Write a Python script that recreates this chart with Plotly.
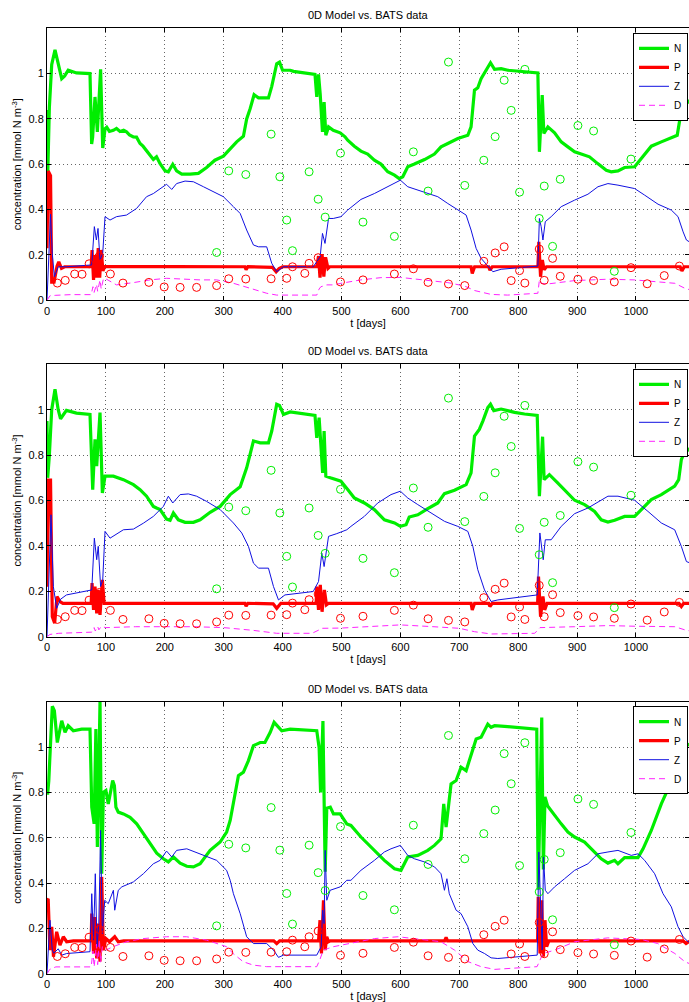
import plotly.graph_objects as go

# ---------------- observations (BATS data, same in all panels) ----------------
obsN_t = [288, 308.6, 337.5, 380.5, 395.3, 407, 416.8, 445, 460.4, 472.3, 498.3, 536.5, 589.8, 622, 647,
          681.6, 709.3, 741.6, 760.9, 776.2, 788.1, 802.3, 811.3, 835.7, 844.2, 858.4, 871.4, 901.4, 928,
          963.2, 991.5]
obsN_v = [0.211, 0.571, 0.555, 0.733, 0.545, 0.354, 0.219, 0.567, 0.446, 0.367, 0.649, 0.345, 0.282, 0.655,
          0.482, 1.051, 0.507, 0.618, 0.722, 0.971, 0.838, 0.477, 1.019, 0.361, 0.504, 0.238, 0.534, 0.771,
          0.747, 0.128, 0.623]
obsP_t = [17.6, 31, 47, 59.5, 71.5, 89, 107.6, 129, 173, 199, 226, 254, 288, 308.6, 337.5, 380.5, 407, 416.8,
          437.7, 445, 460.4, 498.3, 536.5, 589.8, 622, 647, 681.6, 709.3, 741.6, 760.9, 776.2, 788.1, 802.3,
          811.3, 835.7, 844.2, 858.4, 871.4, 901.4, 928, 963.2, 991.5, 1019, 1048, 1073.7]
obsP_v = [0.076, 0.088, 0.116, 0.115, 0.161, 0.195, 0.116, 0.076, 0.079, 0.059, 0.057, 0.057, 0.065, 0.095,
          0.094, 0.095, 0.097, 0.148, 0.119, 0.163, 0.188, 0.081, 0.090, 0.116, 0.139, 0.079, 0.072, 0.065,
          0.172, 0.209, 0.236, 0.087, 0.131, 0.076, 0.226, 0.088, 0.185, 0.106, 0.093, 0.087, 0.081, 0.144,
          0.073, 0.109, 0.151]

# ---------------- panel 1 model curves (t, value) ----------------
p1_N = [(0, 0.84), (1.2, 0.55), (4, 0.85), (8, 1.04), (13.6, 1.105), (19, 1.05), (25, 0.978), (30, 0.99),
        (36, 1.015), (50, 1.003), (73, 1.0), (75.8, 0.69), (77.5, 0.72), (81.5, 0.897), (85.5, 0.743),
        (91, 1.019), (94.6, 0.672), (98.5, 0.757), (101.4, 0.764), (106, 0.745), (112.7, 0.75), (118, 0.758),
        (124, 0.745), (130, 0.75), (135, 0.743), (140, 0.73), (146.7, 0.721), (152, 0.72), (158, 0.692),
        (163, 0.68), (169, 0.662), (175, 0.64), (180.6, 0.621), (186, 0.633), (192, 0.603), (200.5, 0.571),
        (206, 0.567), (213.5, 0.60), (220, 0.571), (228.8, 0.557), (243, 0.557), (257, 0.56), (271, 0.586),
        (285, 0.618), (299.5, 0.636), (311, 0.67), (322, 0.699), (333.5, 0.724), (339, 0.80), (345, 0.846),
        (351.6, 0.907), (359, 0.893), (376, 0.893), (381.6, 0.944), (390, 1.044), (394.7, 1.051), (400, 1.015),
        (412.8, 1.015), (418.5, 1.01), (455, 0.997), (458, 0.897), (461, 0.997), (463.8, 0.912), (467.7, 0.743),
        (470.5, 0.875), (473.4, 0.728), (478, 0.765), (486, 0.75), (497.7, 0.739), (506, 0.721), (510.5, 0.706),
        (521.8, 0.68), (533, 0.658), (544.5, 0.645), (555.8, 0.618), (567, 0.601), (578.5, 0.567), (590, 0.552),
        (598, 0.537), (604, 0.545), (612.5, 0.589), (623.8, 0.601), (641, 0.621), (657.8, 0.645), (669, 0.677),
        (680.5, 0.692), (697.5, 0.714), (714.5, 0.728), (720, 0.765), (725.8, 0.927), (731.4, 0.938),
        (737, 0.978), (745.6, 1.015), (753, 1.048), (759.8, 1.019), (771, 1.022), (782.4, 1.015), (810.8, 1.01),
        (833.4, 1.003), (836, 0.655), (839, 0.78), (840.8, 0.905), (843.6, 0.736), (850.4, 0.765),
        (861.8, 0.739), (873, 0.699), (884.4, 0.677), (895.8, 0.655), (907, 0.645), (921, 0.633), (935, 0.603),
        (949.6, 0.574), (958, 0.567), (969.4, 0.571), (980.7, 0.586), (997.7, 0.589), (1009, 0.626),
        (1026, 0.68), (1043, 0.699), (1057, 0.714), (1070, 0.728), (1077, 0.838), (1085.6, 0.885),
        (1092.5, 0.868)]
p1_P = [(0, 0.23), (2, 0.57), (6, 0.55), (8, 0.08), (12, 0.08), (17, 0.15), (20, 0.17), (24.6, 0.141),
        (30, 0.148), (75, 0.148), (76.5, 0.222), (79, 0.09), (81.5, 0.2), (84, 0.1), (87, 0.23), (89.5, 0.1),
        (92, 0.222), (95, 0.13), (98, 0.15), (200, 0.15), (336, 0.148), (338, 0.135), (341, 0.148),
        (383, 0.145), (389, 0.126), (394, 0.14), (400, 0.148), (458, 0.148), (461, 0.195), (463.5, 0.1),
        (467, 0.204), (470, 0.105), (473, 0.19), (477, 0.141), (480, 0.148), (720, 0.148), (722, 0.118),
        (726, 0.148), (750, 0.148), (752, 0.133), (756, 0.148), (833.5, 0.148), (835, 0.258), (838, 0.104),
        (841, 0.178), (844, 0.135), (848, 0.148), (1075, 0.148), (1078, 0.13), (1082, 0.148), (1095, 0.148)]
p1_Z = [(0, 0), (6, 0.38), (9, 0.207), (12.5, 0.104), (19, 0.148), (33.4, 0.148), (76, 0.156), (80.4, 0.325),
        (83.8, 0.266), (86.6, 0.317), (90, 0.178), (94.6, 0.207), (98.5, 0.369), (107, 0.354), (118, 0.369),
        (135, 0.376), (152, 0.405), (169, 0.457), (180.6, 0.471), (192, 0.493), (203, 0.512), (211.8, 0.489),
        (220, 0.515), (234.4, 0.526), (248.6, 0.523), (265.6, 0.501), (282.6, 0.479), (299.5, 0.457),
        (316.5, 0.413), (328, 0.383), (339, 0.31), (350.5, 0.244), (359, 0.236), (373, 0.236), (381.6, 0.163),
        (390, 0.126), (401.5, 0.148), (452, 0.148), (463.8, 0.192), (467.7, 0.295), (472, 0.251), (478, 0.361),
        (486, 0.361), (499, 0.369), (510.5, 0.398), (533, 0.445), (555.8, 0.471), (578.5, 0.501), (600, 0.53),
        (612.5, 0.501), (635, 0.483), (663.5, 0.457), (680.5, 0.427), (697.5, 0.398), (711.6, 0.376),
        (720, 0.31), (728.6, 0.229), (737, 0.185), (751, 0.141), (757, 0.126), (771, 0.137), (833.4, 0.151),
        (836, 0.361), (839, 0.325), (842, 0.266), (846, 0.347), (856, 0.369), (873, 0.413), (895.8, 0.442),
        (918.4, 0.468), (935.4, 0.501), (952.4, 0.515), (969.4, 0.508), (997.7, 0.493), (1014.7, 0.464),
        (1037.4, 0.424), (1060, 0.398), (1071.4, 0.369), (1080, 0.302), (1085.6, 0.266), (1092.5, 0.255)]
p1_D = [(0, 0), (5, 0.02), (15, 0.022), (40, 0.025), (75, 0.025), (78, 0.06), (80, 0.035), (84, 0.07),
        (86, 0.04), (90, 0.09), (92, 0.05), (96, 0.097), (101, 0.093), (118, 0.068), (146.7, 0.078),
        (175, 0.09), (203, 0.097), (231.6, 0.093), (260, 0.09), (288, 0.09), (316.5, 0.075), (345, 0.053),
        (373, 0.031), (390, 0.023), (458, 0.023), (462, 0.05), (465, 0.06), (469.4, 0.063), (475, 0.068),
        (486.4, 0.068), (499, 0.075), (533, 0.09), (567, 0.10), (600, 0.101), (641, 0.09), (680.5, 0.078),
        (709, 0.063), (726, 0.043), (754, 0.026), (782, 0.023), (833.4, 0.031), (836, 0.09), (839, 0.075),
        (850, 0.072), (896, 0.087), (952, 0.093), (997.7, 0.09), (1037, 0.082), (1066, 0.075), (1083, 0.053),
        (1092, 0.046)]

# ---------------- panel 2 model curves ----------------
p2_N = [(0, 0.95), (1.2, 0.7), (4, 0.8), (8, 1.0), (13.6, 1.09), (19, 1.0), (23, 0.96), (33, 0.997),
        (50, 0.985), (73, 0.979), (77.6, 0.648), (81.5, 0.869), (84.4, 0.751), (90, 0.987), (94, 0.633),
        (98.5, 0.707), (112.7, 0.707), (129.7, 0.692), (146.7, 0.67), (158, 0.648), (169, 0.619),
        (180.6, 0.574), (186, 0.567), (192, 0.56), (203, 0.518), (209, 0.513), (214.6, 0.545), (223, 0.515),
        (234.4, 0.504), (248.6, 0.504), (260, 0.515), (277, 0.548), (294, 0.574), (311, 0.626), (328, 0.66),
        (339, 0.744), (350.5, 0.862), (362, 0.854), (376, 0.854), (381.6, 0.906), (390, 1.024), (394.7, 1.019),
        (401.5, 0.979), (412.8, 0.99), (455, 0.975), (458, 0.876), (462, 0.965), (465, 0.825), (468, 0.722),
        (470.5, 0.906), (473.4, 0.707), (481, 0.70), (492, 0.692), (499, 0.685), (510.5, 0.648), (521.8, 0.611),
        (538.8, 0.589), (555.8, 0.56), (572.8, 0.515), (590, 0.501), (600, 0.486), (609.6, 0.493), (615, 0.527),
        (629.5, 0.537), (646.5, 0.564), (663.5, 0.589), (674.8, 0.63), (691.8, 0.645), (711.6, 0.67),
        (720, 0.722), (725.8, 0.884), (734, 0.913), (740, 0.95), (748.4, 1.009), (753, 1.024), (758.6, 0.996),
        (771, 1.003), (793.8, 0.988), (810.8, 0.981), (832.3, 0.975), (836, 0.619), (839, 0.766),
        (841.4, 0.881), (844, 0.692), (853, 0.714), (867.4, 0.677), (884.4, 0.633), (895.8, 0.601),
        (912.7, 0.582), (929.7, 0.552), (941, 0.515), (952.4, 0.505), (963.7, 0.513), (980.7, 0.53),
        (997.7, 0.53), (1012, 0.567), (1026, 0.604), (1043, 0.626), (1065.7, 0.663), (1072.5, 0.692),
        (1077, 0.78), (1085.6, 0.832), (1092.5, 0.817)]
p2_P = [(0, 0.22), (2, 0.69), (6, 0.69), (9, 0.088), (13, 0.06), (17, 0.177), (22, 0.155), (27, 0.147),
        (75, 0.147), (76.5, 0.236), (79, 0.118), (81.5, 0.221), (84.4, 0.103), (87, 0.206), (90, 0.096),
        (94, 0.25), (97, 0.147), (336, 0.147), (338, 0.135), (341, 0.147), (384, 0.145), (390, 0.125),
        (397, 0.147), (457, 0.147), (458, 0.221), (461, 0.118), (464, 0.228), (467, 0.11), (471, 0.206),
        (474.5, 0.14), (478, 0.147), (720, 0.147), (722, 0.118), (726, 0.147), (750, 0.147), (752, 0.133),
        (756, 0.147), (833, 0.147), (834.5, 0.265), (838, 0.088), (842, 0.177), (845, 0.118), (849, 0.147),
        (1073, 0.147), (1077, 0.133), (1081, 0.147), (1095, 0.147)]
p2_Z = [(0, 0), (6.8, 0.537), (10.8, 0.221), (16.4, 0.125), (23, 0.165), (33, 0.184), (76, 0.206),
        (80.4, 0.434), (84.4, 0.339), (87, 0.398), (91, 0.221), (94.6, 0.25), (98.5, 0.464), (107, 0.434),
        (129.7, 0.471), (146.7, 0.474), (163.6, 0.5), (180.6, 0.53), (197.6, 0.574), (206, 0.619),
        (213.5, 0.589), (226, 0.626), (240, 0.629), (254, 0.619), (271, 0.596), (294, 0.56), (316.5, 0.501),
        (330.7, 0.457), (342, 0.398), (350.5, 0.324), (359, 0.302), (376, 0.302), (384.5, 0.221), (393, 0.162),
        (404, 0.184), (452, 0.199), (461, 0.243), (466.6, 0.368), (470.5, 0.309), (478, 0.442), (492, 0.454),
        (509, 0.471), (516, 0.486), (538.8, 0.53), (561.5, 0.589), (584, 0.626), (600, 0.641), (612.5, 0.611),
        (629.5, 0.582), (652, 0.545), (675, 0.508), (697.5, 0.486), (714.5, 0.464), (723, 0.398),
        (731.4, 0.295), (742.8, 0.206), (754, 0.155), (765.4, 0.162), (832.3, 0.184), (836.8, 0.457),
        (840.8, 0.368), (842.5, 0.339), (846, 0.427), (856, 0.427), (873, 0.486), (895.8, 0.542),
        (918.4, 0.567), (941, 0.604), (952.4, 0.619), (969.4, 0.619), (997.7, 0.601), (1020.3, 0.552),
        (1043, 0.501), (1065.7, 0.471), (1077, 0.398), (1085.6, 0.331), (1092.5, 0.324)]
p2_D = [(0, 0), (5, 0.01), (20, 0.015), (60, 0.02), (76, 0.02), (80, 0.04), (82, 0.025), (86, 0.045),
        (88, 0.03), (92, 0.045), (100, 0.04), (150, 0.044), (200, 0.045), (250, 0.044), (300, 0.04),
        (350, 0.028), (390, 0.015), (450, 0.015), (462, 0.03), (467, 0.037), (500, 0.038), (560, 0.045),
        (600, 0.052), (650, 0.045), (700, 0.037), (726, 0.022), (754, 0.012), (828, 0.015), (837, 0.04),
        (896, 0.044), (952, 0.049), (1000, 0.046), (1066, 0.044), (1083, 0.03), (1092, 0.025)]

# ---------------- panel 3 model curves ----------------
p3_N = [(0, 0.81), (1, 0.79), (3, 0.85), (6, 1.05), (9, 1.18), (12.5, 1.16), (17.5, 1.02), (25, 1.116),
        (30.6, 1.065), (36, 1.094), (44.7, 1.072), (58.9, 1.079), (73, 1.079), (76, 0.735), (80, 0.661),
        (83, 1.079), (85.5, 0.559), (88.3, 0.94), (90, 1.2), (92.9, 0.441), (95.7, 0.80), (100, 0.808),
        (104, 0.749), (111.5, 0.852), (114.4, 0.83), (117, 0.735), (121, 0.713), (129.7, 0.705), (141, 0.69),
        (152.3, 0.661), (163.6, 0.617), (175, 0.573), (186.3, 0.532), (197.6, 0.507), (206, 0.493),
        (214.6, 0.515), (226, 0.488), (237.3, 0.474), (248.6, 0.471), (260, 0.485), (277, 0.544), (294, 0.581),
        (305, 0.625), (311, 0.676), (319, 0.793), (325, 0.874), (333.5, 0.889), (342, 0.94), (350.5, 1.006),
        (362, 1.02), (370, 1.02), (379, 1.065), (385.6, 1.109), (393, 1.087), (398.6, 1.072), (412.8, 1.079),
        (458, 1.072), (462, 0.998), (464.5, 0.8), (468.5, 1.115), (472.3, 0.45), (475, 0.73), (481, 0.735),
        (486.4, 0.705), (497.7, 0.705), (509, 0.661), (516, 0.654), (533, 0.603), (555.8, 0.544),
        (572.8, 0.5), (590, 0.463), (601, 0.456), (612.5, 0.515), (629.5, 0.522), (646.5, 0.544),
        (657.8, 0.566), (669, 0.595), (673.6, 0.749), (677.6, 0.647), (681.6, 0.749), (686, 0.837),
        (694.6, 0.852), (703, 0.911), (711.6, 0.896), (720, 0.969), (728.6, 1.035), (737, 1.043),
        (748.4, 1.101), (754, 1.087), (760, 1.094), (782.4, 1.09), (831.5, 1.079), (834, 0.37), (837, 0.8),
        (840, 1.13), (842.7, 0.46), (845.5, 0.78), (850, 0.74), (861.8, 0.698), (873, 0.661), (884.4, 0.625),
        (895.8, 0.603), (912.7, 0.581), (929.7, 0.537), (941, 0.507), (952.4, 0.488), (963.7, 0.5),
        (969.4, 0.485), (980.7, 0.512), (1003.4, 0.512), (1012, 0.551), (1026, 0.632), (1043, 0.749),
        (1054.4, 0.815), (1065.7, 0.845), (1074, 0.94), (1082.7, 1.006), (1092.5, 1.013)]
p3_P = [(0, 0.324), (2, 0.33), (5, 0.104), (8, 0.207), (11, 0.075), (16.4, 0.185), (22, 0.126),
        (27.7, 0.163), (33.4, 0.141), (44.7, 0.145), (75, 0.145), (76, 0.265), (79, 0.089), (81.5, 0.25),
        (84.4, 0.067), (87, 0.221), (90, 0.053), (92.9, 0.427), (95.7, 0.104), (100, 0.155), (106, 0.141),
        (115, 0.163), (121, 0.141), (130, 0.145), (385, 0.145), (390, 0.133), (395, 0.145), (461, 0.145),
        (463.5, 0.236), (466, 0.089), (469.4, 0.324), (472.3, 0.104), (475, 0.163), (478, 0.141), (481, 0.145),
        (675, 0.145), (677.6, 0.16), (680, 0.145), (833, 0.145), (834, 0.339), (837, 0.089), (839.9, 0.324),
        (842.7, 0.075), (845.5, 0.236), (848.3, 0.119), (852, 0.145), (1080, 0.145), (1085, 0.133),
        (1092, 0.145)]
p3_Z = [(0, 0), (5, 0.236), (9, 0.104), (11.5, 0.09), (19, 0.11), (25, 0.082), (33.4, 0.089), (73, 0.097),
        (76, 0.353), (79, 0.148), (82, 0.441), (85, 0.119), (88, 0.221), (91, 0.632), (94, 0.177), (98, 0.324),
        (104, 0.309), (112.7, 0.368), (115, 0.28), (118, 0.324), (121, 0.368), (127, 0.383), (146.7, 0.405),
        (163.6, 0.441), (180.6, 0.485), (192, 0.5), (203, 0.541), (211.8, 0.515), (220, 0.544), (237.3, 0.551),
        (260, 0.529), (288, 0.5), (305, 0.456), (311, 0.412), (316.5, 0.353), (328, 0.265), (339, 0.163),
        (350.5, 0.133), (373, 0.133), (384.5, 0.104), (393, 0.072), (401.5, 0.082), (458, 0.082),
        (465.5, 0.119), (468, 0.28), (470.5, 0.221), (472.3, 0.544), (475, 0.324), (480.7, 0.368),
        (497.7, 0.383), (509, 0.412), (516, 0.412), (533, 0.456), (555.8, 0.5), (572.8, 0.537), (584, 0.551),
        (600, 0.566), (612.5, 0.522), (623.8, 0.507), (641, 0.493), (658, 0.471), (669, 0.441), (674.8, 0.368),
        (679, 0.419), (683, 0.353), (694.6, 0.28), (703, 0.265), (714.5, 0.207), (723, 0.133), (731.4, 0.104),
        (742.8, 0.089), (754, 0.07), (765.4, 0.067), (832.3, 0.082), (835, 0.537), (838, 0.265),
        (840.8, 0.104), (843, 0.515), (846, 0.368), (850.4, 0.353), (861.8, 0.383), (878.7, 0.419),
        (895.8, 0.456), (918.4, 0.485), (935.4, 0.529), (952.4, 0.537), (969.4, 0.544), (992, 0.522),
        (1003.4, 0.529), (1014.7, 0.5), (1031.7, 0.441), (1045.9, 0.353), (1060, 0.295), (1071.4, 0.207),
        (1080, 0.163), (1088.5, 0.141), (1092.5, 0.141)]
p3_D = [(0, 0), (5, 0.02), (15, 0.03), (75, 0.03), (78, 0.1), (80, 0.03), (84, 0.13), (86, 0.04), (89, 0.15),
        (91, 0.05), (94, 0.12), (100, 0.104), (112, 0.119), (135, 0.141), (163, 0.155), (203, 0.163),
        (237, 0.163), (271, 0.148), (305, 0.119), (316, 0.089), (333, 0.053), (350, 0.038), (373, 0.031),
        (458, 0.031), (463, 0.06), (469, 0.104), (486, 0.119), (511, 0.133), (556, 0.155), (596, 0.163),
        (641, 0.148), (669, 0.141), (692, 0.104), (715, 0.053), (737, 0.031), (760, 0.019), (832, 0.031),
        (836, 0.053), (842, 0.089), (862, 0.104), (896, 0.141), (952, 0.158), (1009, 0.151), (1037, 0.133),
        (1066, 0.089), (1083, 0.053), (1092, 0.043)]

series_names = ["N", "P", "Z", "D"]
panels = [(p1_N, p1_P, p1_Z, p1_D), (p2_N, p2_P, p2_Z, p2_D), (p3_N, p3_P, p3_Z, p3_D)]
title_text = "0D Model vs. BATS data"
x_ticks = [0, 100, 200, 300, 400, 500, 600, 700, 800, 900, 1000]
y_ticks = [0, 0.2, 0.4, 0.6, 0.8, 1.0]
y_ticklabels = ["0", "0.2", "0.4", "0.6", "0.8", "1"]

# ---------------- styling ----------------
FONT = "Liberation Sans, Arial, Helvetica, sans-serif"
W, H = 689, 1002
styles = {
    "N": dict(color="#00ee00", width=3.2),
    "P": dict(color="#ff0000", width=3.2),
    "Z": dict(color="#1010e0", width=1.0),
    "D": dict(color="#ff22ff", width=1.0, dash="6px,4px"),
}
# plot area pixel boxes (top, bottom)
boxes = [(28.3, 300.3), (364.3, 636.7), (701.7, 973.7)]

fig = go.Figure()
layout = dict(
    width=W, height=H, margin=dict(l=47, r=0, t=0, b=0),
    paper_bgcolor="white", plot_bgcolor="white",
    font=dict(family=FONT, size=11, color="black"),
    annotations=[],
)

for i, (curves, (top, bot)) in enumerate(zip(panels, boxes)):
    k = "" if i == 0 else str(i + 1)
    xa, ya = "x" + k, "y" + k
    leg = "legend" + k
    for name, pts in zip(series_names, curves):
        fig.add_trace(go.Scatter(
            x=[p[0] for p in pts], y=[p[1] for p in pts], mode="lines", name=name,
            line=styles[name], xaxis=xa, yaxis=ya, legend=leg, showlegend=True))
    fig.add_trace(go.Scatter(
        x=obsN_t, y=obsN_v, mode="markers", xaxis=xa, yaxis=ya, showlegend=False,
        marker=dict(symbol="circle-open", size=8, color="#00ee00", line=dict(width=1))))
    fig.add_trace(go.Scatter(
        x=obsP_t, y=obsP_v, mode="markers", xaxis=xa, yaxis=ya, showlegend=False,
        marker=dict(symbol="circle-open", size=8, color="#ff0000", line=dict(width=1))))

    axis_common = dict(showline=True, linecolor="black", linewidth=1, mirror="ticks",
                       ticks="inside", ticklen=4, tickcolor="black", tickwidth=1,
                       showgrid=True, gridcolor="#666666", griddash="1px,3px", gridwidth=1,
                       zeroline=False, automargin=False,
                       tickfont=dict(family=FONT, size=11, color="black"))
    layout["xaxis" + k] = dict(axis_common, anchor=ya, domain=[0, 1], range=[0, 1090],
                               tickvals=x_ticks, title=dict(text="t [days]", standoff=3,
                                                            font=dict(size=11)))
    layout["yaxis" + k] = dict(axis_common, anchor=xa,
                               domain=[1 - bot / H, 1 - top / H], range=[0, 1.2],
                               tickvals=y_ticks, ticktext=y_ticklabels,
                               title=dict(text="concentration [mmol N m<sup>-3</sup>]", standoff=4,
                                          font=dict(size=11)))
    layout[leg] = dict(x=(688 - 47) / (W - 47), y=1 - (top + 4.5) / H, xanchor="right", yanchor="top",
                       bgcolor="white", bordercolor="black", borderwidth=1,
                       font=dict(family=FONT, size=10), tracegroupgap=0)
    layout["annotations"].append(dict(
        text=title_text, xref="paper", yref="paper", x=0.5, y=1 - (top - 13) / H,
        xanchor="center", yanchor="middle", showarrow=False, font=dict(family=FONT, size=11)))

fig.update_layout(**layout)
fig.write_html("out.html", config={"displayModeBar": False},
               post_script="document.body.style.margin='0';document.body.style.overflow='hidden';")
